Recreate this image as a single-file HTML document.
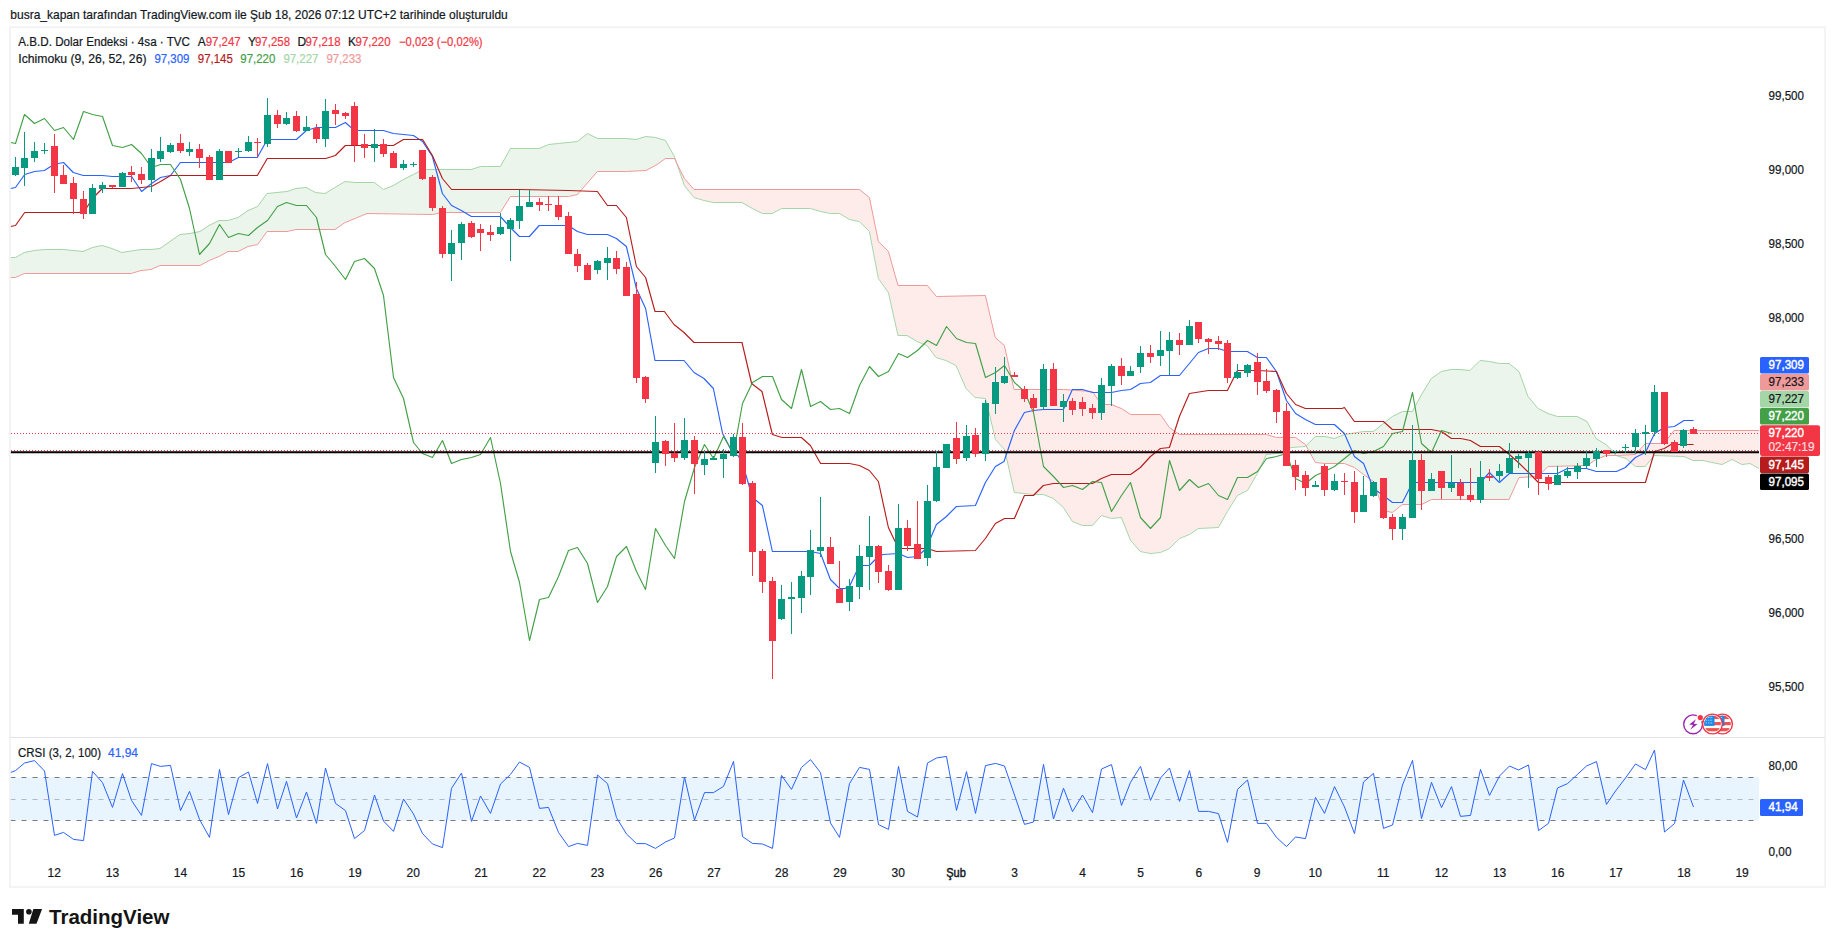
<!DOCTYPE html>
<html lang="tr"><head><meta charset="utf-8"><title>A.B.D. Dolar Endeksi</title>
<style>html,body{margin:0;padding:0;background:#fff;}body{width:1835px;height:947px;position:relative;overflow:hidden;font-family:"Liberation Sans", Arial, sans-serif;}</style>
</head><body>
<svg width="1835" height="947" viewBox="0 0 1835 947" style="display:block;position:absolute;left:0;top:0" font-family='"Liberation Sans", Arial, sans-serif' font-size="12" fill="#131722">
<rect width="1835" height="947" fill="#fff"/>
<g stroke="none">
<polygon points="10.5,257.4 15.4,257.4 24.4,252 34.4,250.6 44.4,249.6 63.6,249 73,250.6 83,251 92.4,247 102,245.4 112,248.6 121.6,252 131,250.7 141,249.4 151,249.4 160,248 170,241 180,234 190,233 200,231 209,225 219,220.4 228,220.4 238,217.6 248,210 257.6,206.6 267,193.6 277,192 287,191 296,188 306,187.4 315.6,192.6 325,193.4 335,187.6 345,181.4 355,182.4 367,182 374.4,182.4 383.4,189.6 393.4,185 403.4,179 413.4,174 422.6,169 432.4,169 442.4,169 471.4,169 480.4,166 500.4,166 510.4,148.6 539.2,148.6 548.6,144.4 558.4,143 568.4,142.3 577.4,141.6 587.4,133.6 597.4,138 626.4,138 636,139.4 646,136.6 655.6,137 657,137.4 665.4,140 674.4,156 677,163.6 677,163.6 674.4,158.4 665.4,158.4 657,164 655.6,164.8 646,170.4 636,170.9 626.4,171.4 597.4,171.4 587.4,183 577.4,194.6 568.4,196 558.4,196 548.6,196 539.2,196 510.4,196 500.4,212.6 480.4,212.6 471.4,212.6 442.4,212.6 432.4,214 422.6,213.9 413.4,213.8 403.4,213.7 393.4,213.6 383.4,213.6 374.4,213.5 367,213.4 355,218 345,222.4 335,229.4 325,229.4 315.6,229.4 306,229.4 296,229.4 287,231 277,231 267,231 257.6,244 248,246.6 238,251 228,251.6 219,256 209,260 200,265 190,265 180,265 170,265 160,265 151,269.4 141,270 131,273 121.6,273 112,273 102,273 92.4,273 83,273 73,273 63.6,273 44.4,273 34.4,273 24.4,273 15.4,277.4 10.5,277.4" fill="rgba(67,160,71,0.1)"/>
<polygon points="677,163.6 684.4,185.6 694,197.4 704,200 713.6,202.6 742,202.6 752.4,208.6 762.4,213 772,213 781.6,208 810.4,208 820.6,211.4 830.4,213 839.6,213 849.4,219.6 859.4,221.4 869.4,231.4 878.4,278 888.4,292 898,335 907,335.6 917,341 927,345 927.4,345.5 936,357 936.4,357.1 946,360 956,365 966,388 975,397.6 985.4,398.6 990,416 995.2,438.1 995.4,439 1004.4,448.8 1004.6,449 1014,490.6 1014.4,492.4 1033.4,494 1043.4,494.6 1053.4,498.6 1063.4,507 1072.4,521.6 1082.4,525.6 1092.4,525.6 1101.4,515.6 1111.4,518 1121.4,517.6 1130.6,540 1140.4,551 1150.4,553 1160.4,552 1169.4,548 1179.4,538 1189.4,534 1198.4,528 1218.4,527.4 1227.4,511 1237.4,495 1247.4,490 1257.4,473 1266.4,454 1276.4,453.4 1283,452 1291,447 1295.6,446.7 1305.4,446 1305.9,445.5 1305.9,445.5 1305.4,444.6 1295.6,437.6 1291,437.6 1283,437.6 1276.4,437.6 1266.4,434.4 1257.4,434.4 1247.4,434.4 1237.4,434.4 1227.4,434.4 1218.4,434.4 1198.4,434.4 1189.4,434.4 1179.4,434.4 1169.4,427.6 1160.4,414.4 1150.4,414.4 1140.4,414.4 1130.6,414.4 1121.4,408 1111.4,404 1101.4,404 1092.4,391 1082.4,390.3 1072.4,389.6 1063.4,389 1053.4,389 1043.4,389 1033.4,389 1014.4,389 1014,389 1004.6,346.5 1004.4,345.6 995.4,337.2 995.2,337 990,315 985.4,295.6 975,295.7 966,295.8 956,295.8 946,295.9 936.4,296 936,295.5 927.4,285.4 927,285.4 917,285.4 907,285.4 898,285.4 888.4,251 878.4,241 869.4,197 859.4,189.6 849.4,189.6 839.6,189.6 830.4,189.6 820.6,189.6 810.4,189.6 781.6,189.6 772,189.6 762.4,189.6 752.4,189.6 742,189.6 713.6,189.6 704,189.6 694,189.6 684.4,178.6 677,163.6" fill="rgba(244,67,54,0.1)"/>
<polygon points="1305.9,445.5 1315.4,436.6 1325,436.6 1334.4,438 1342,435 1344.4,434 1354.4,432.8 1363.6,431.6 1373.4,431 1383.4,423.6 1392.4,416.4 1402.4,411 1412.4,411 1421.6,394 1431.4,378 1441.4,371.4 1451.4,369 1460,369 1470,370.6 1480,360.6 1489.6,361 1499.6,363.6 1509,363.6 1519,371.4 1528,396 1538,408.6 1548,413 1557.4,416 1577,416.4 1587,421 1596,438 1606,444 1612,450 1616,455 1617.6,455.5 1617.6,455.5 1616,455.6 1612,455.6 1606,455.6 1596,459.6 1587,465.6 1577,465.7 1557.4,465.9 1548,466 1538,476.6 1528,476.8 1519,477 1509,499.6 1499.6,499.6 1489.6,499.6 1480,499.6 1470,499.6 1460,499.6 1451.4,499.6 1441.4,499.6 1431.4,499.6 1421.6,504.4 1412.4,504.4 1402.4,504.4 1392.4,512.4 1383.4,510 1373.4,481.6 1363.6,474.4 1354.4,467.6 1344.4,463 1342,463 1334.4,463 1325,463 1315.4,462 1305.9,445.5" fill="rgba(67,160,71,0.1)"/>
<polygon points="1617.6,455.5 1626,458 1635.4,466 1645.4,466.4 1654,455 1664,455.5 1674,455.9 1684,456.4 1693,460 1703,460 1712,462 1722,464.4 1732,459.6 1742,464.4 1750,463.6 1759,468 1759,430 1750,430 1742,430 1732,430 1722,430 1712,430 1703,430 1693,430 1684,430 1674,430 1664,443.4 1654,443.4 1645.4,443.4 1635.4,454 1626,454.8 1617.6,455.5" fill="rgba(244,67,54,0.1)"/>
</g>
<g fill="none" stroke-width="1" stroke-linejoin="round">
<polyline points="10.5,257.5 15.4,257.5 24.4,252.5 34.4,250.5 44.4,249.5 63.6,249.5 73,250.5 83,251.5 92.4,247.5 102,245.5 112,248.5 121.6,252.5 141,249.5 151,249.5 160,248.5 170,241.5 180,234.5 190,233.5 200,231.5 209,225.5 219,220.5 228,220.5 238,217.5 248,210.5 257.6,206.5 267,193.5 277,192.5 287,191.5 296,188.5 306,187.5 315.6,192.5 325,193.5 335,187.5 345,181.5 355,182.5 367,182.5 374.4,182.5 383.4,189.5 393.4,185.5 403.4,179.5 413.4,174.5 422.6,169.5 471.4,169.5 480.4,166.5 500.4,166.5 510.4,148.5 539.2,148.5 548.6,144.5 558.4,143.5 577.4,141.5 587.4,133.5 597.4,138.5 626.4,138.5 636,139.5 646,136.5 655.6,137.5 665.4,140.5 674.4,156.5 684.4,185.5 694,197.5 704,200.5 713.6,202.5 742,202.5 752.4,208.5 762.4,213.5 772,213.5 781.6,208.5 810.4,208.5 820.6,211.5 830.4,213.5 839.6,213.5 849.4,219.5 859.4,221.5 869.4,231.5 878.4,278.5 888.4,292.5 898,335.5 907,335.5 917,341.5 927,345.5 936,357.5 946,360.5 956,365.5 966,388.5 975,397.5 985.4,398.5 990,416.5 995.4,439.5 1004.6,449.5 1014.4,492.5 1033.4,494.5 1043.4,494.5 1053.4,498.5 1063.4,507.5 1072.4,521.5 1082.4,525.5 1092.4,525.5 1101.4,515.5 1111.4,518.5 1121.4,517.5 1130.6,540.5 1140.4,551.5 1150.4,553.5 1160.4,552.5 1169.4,548.5 1179.4,538.5 1189.4,534.5 1198.4,528.5 1218.4,527.5 1227.4,511.5 1237.4,495.5 1247.4,490.5 1257.4,473.5 1266.4,454.5 1276.4,453.5 1283,452.5 1291,447.5 1305.4,446.5 1315.4,436.5 1325,436.5 1334.4,438.5 1344.4,434.5 1363.6,431.5 1373.4,431.5 1383.4,423.5 1392.4,416.5 1402.4,411.5 1412.4,411.5 1421.6,394.5 1431.4,378.5 1441.4,371.5 1451.4,369.5 1460,369.5 1470,370.5 1480,360.5 1489.6,361.5 1499.6,363.5 1509,363.5 1519,371.5 1528,396.5 1538,408.5 1548,413.5 1557.4,416.5 1577,416.5 1587,421.5 1596,438.5 1606,444.5 1612,450.5 1616,455.5 1626,458.5 1635.4,466.5 1645.4,466.5 1654,455.5 1684,456.5 1693,460.5 1703,460.5 1712,462.5 1722,464.5 1732,459.5 1742,464.5 1750,463.5 1759,468.5" stroke="#A5D6A7"/>
<polyline points="10.5,277.5 15.4,277.5 24.4,273.5 131,273.5 141,270.5 151,269.5 160,265.5 200,265.5 209,260.5 219,256.5 228,251.5 238,251.5 248,246.5 257.6,244.5 267,231.5 287,231.5 296,229.5 335,229.5 345,222.5 355,218.5 367,213.5 432.4,214.5 442.4,212.5 500.4,212.5 510.4,196.5 568.4,196.5 577.4,194.5 597.4,171.5 626.4,171.5 646,170.5 657,164.5 665.4,158.5 674.4,158.5 684.4,178.5 694,189.5 859.4,189.5 869.4,197.5 878.4,241.5 888.4,251.5 898,285.5 927.4,285.5 936.4,296.5 985.4,295.5 995.2,337.5 1004.4,345.5 1014,389.5 1014.4,389.5 1063.4,389.5 1092.4,391.5 1101.4,404.5 1111.4,404.5 1121.4,408.5 1130.6,414.5 1160.4,414.5 1169.4,427.5 1179.4,434.5 1266.4,434.5 1276.4,437.5 1295.6,437.5 1305.4,444.5 1315.4,462.5 1325,463.5 1342,463.5 1344.4,463.5 1354.4,467.5 1363.6,474.5 1373.4,481.5 1383.4,510.5 1392.4,512.5 1402.4,504.5 1421.6,504.5 1431.4,499.5 1509,499.5 1519,477.5 1538,476.5 1548,466.5 1587,465.5 1596,459.5 1606,455.5 1616,455.5 1635.4,454.5 1645.4,443.5 1664,443.5 1674,430.5 1759,430.5" stroke="#EF9A9A"/>
</g>
<g fill="none" stroke-width="1.15" stroke-linejoin="round">
<polyline points="10.5,188.5 15.5,187.5 24.7,174.5 34.5,171.5 44.4,170.5 50.7,166.5 58.3,163.5 63.5,162.5 73.3,172.5 83.3,175.5 102.4,175.5 112.4,176.5 131.6,176.5 141.6,191.5 151.5,183.5 160.5,177.5 170.5,175.5 180.4,162.5 228.4,162.5 238.4,157.5 257.3,157.5 267.3,139.5 286.4,139.5 296.4,139.5 306.4,130.5 316.2,127.5 335.4,127.5 345.4,122.5 354.4,130.5 383.4,130.5 393.4,133.5 403.4,134.5 413.4,135.5 422.6,141.5 432.4,156.5 442.4,193.5 451.6,205.5 461.4,210.5 471.4,216.5 500.4,216.5 510.4,227.5 519.4,236.5 529.4,236.5 539.2,225.5 568.4,225.5 577.4,231.5 587.4,234.5 607.4,234.5 616.4,238.5 626.4,246.5 636.4,288.5 645.6,308.5 655,360.5 684,360.5 694,372.5 704,378.5 713.4,388.5 722.6,433.5 733.4,454.5 738,455.5 742.6,463.5 752.4,497.5 762.4,505.5 772.4,551.5 810.4,551.5 820.6,553.5 830.4,579.5 839.6,588.5 845,588.5 849.4,586.5 859.4,565.5 869.4,565.5 878.4,556.5 883,554.5 898.4,553.5 907.6,557.5 917.4,556.5 924,550.5 927.4,545.5 936.4,524.5 946.4,516.5 956.4,506.5 975.4,505.5 985.4,482.5 995.4,466.5 1004,461.5 1014.4,430.5 1024.4,412.5 1033.4,410.5 1043.4,409.5 1063.4,409.5 1072.4,389.5 1082.4,389.5 1092.4,392.5 1111.4,392.5 1121.4,390.5 1130.6,389.5 1140.4,383.5 1150.4,382.5 1160.4,375.5 1179.4,375.5 1189.4,363.5 1198.4,352.5 1208.4,348.5 1218.4,348.5 1227.4,351.5 1247.4,351.5 1257.4,357.5 1266.4,357.5 1276.4,371.5 1286.4,400.5 1295.6,413.5 1305.4,419.5 1315.4,424.5 1334.4,424.5 1344.4,433.5 1354.4,456.5 1363.6,463.5 1373.4,488.5 1383.4,495.5 1392.4,502.5 1402.4,502.5 1409,489.5 1412.4,482.5 1480.4,482.5 1489.4,472.5 1499.4,482.5 1509.4,473.5 1557.4,473.5 1567.4,468.5 1586.4,468.5 1596.4,471.5 1616.4,471.5 1625.4,467.5 1635.4,457.5 1645.4,452.5 1654.6,433.5 1664.4,427.5 1674.4,426.5 1684,420.5 1693.6,420.5" stroke="#2962FF"/>
<polyline points="10.5,226.5 15.5,225.5 24.7,212.5 73.3,212.5 79.4,212.5 86.2,208.5 92.4,198.5 102.4,188.5 131.6,188.5 151.5,186.5 160.5,181.5 170.5,175.5 257.3,175.5 267.3,158.5 296.3,158.5 325.6,158.5 335.4,155.5 345.4,145.5 393.4,145.5 403.4,139.5 422.6,139.5 432.4,155.5 442.4,178.5 451.6,189.5 519.4,189.5 568.4,190.5 597.4,191.5 607.4,205.5 616.4,205.5 626.4,217.5 636.4,266.5 645.6,277.5 655,311.5 664.4,311.5 674,324.5 684,332.5 694,342.5 742,342.5 751.6,383.5 762,391.5 772.4,434.5 782,437.5 801.4,437.5 810.4,445.5 820.6,463.5 849.4,463.5 859.4,465.5 869.4,470.5 878.4,481.5 888.4,527.5 898.4,548.5 927.4,548.5 936.4,551.5 975.4,550.5 985.4,538.5 995.4,523.5 1004.6,518.5 1014.4,518.5 1024.4,495.5 1033.4,495.5 1043.4,485.5 1053.4,483.5 1092.4,483.5 1101.4,478.5 1111.4,474.5 1130.6,474.5 1140.4,467.5 1150.4,456.5 1160.4,448.5 1169.4,447.5 1179.4,416.5 1189.4,393.5 1208.4,390.5 1227.4,390.5 1237.4,370.5 1257.4,370.5 1276.4,371.5 1286.4,393.5 1295.6,404.5 1305.4,408.5 1342,408.5 1344.4,407.5 1354.4,421.5 1383.4,421.5 1392.4,429.5 1431.4,429.5 1441.4,431.5 1451.4,438.5 1460.6,438.5 1470.4,440.5 1480.4,446.5 1499.4,446.5 1509.4,454.5 1519.4,463.5 1528.6,472.5 1538.4,482.5 1635.4,482.5 1645.4,482.5 1654.6,451.5 1664.4,448.5 1671,444.5 1693.6,444.5" stroke="#B71C1C"/>
<polyline points="10.5,142.5 15.5,143.5 24.5,114.5 34.5,123.5 44.5,118.5 54.5,130.5 63.5,127.5 73.5,139.5 83.5,111.5 92.5,114.5 102.5,116.5 112.5,145.5 122.5,147.5 131.5,144.5 141.5,153.5 151.5,167.5 160.5,164.5 170.5,164.5 180.5,179.5 189.5,208.5 199.5,254.5 209.5,243.5 219.5,224.5 228.5,237.5 238.5,233.5 248.5,235.5 257.5,227.5 267.5,220.5 277.5,206.5 286.5,202.5 296.5,205.5 306.5,205.5 316.5,217.5 325.5,254.5 335.5,266.5 345.5,279.5 354.5,261.5 364.5,258.5 374.5,268.5 383.5,295.5 393.5,377.5 403.5,398.5 413.5,442.5 422.5,453.5 432.5,457.5 442.5,440.5 451.5,463.5 461.5,459.5 471.5,457.5 480.5,454.5 490.5,437.5 500.5,483.5 510.5,551.5 519.5,582.5 529.5,640.5 539.5,599.5 548.5,597.5 558.5,576.5 568.5,550.5 577.5,547.5 587.5,563.5 597.5,602.5 607.5,586.5 616.5,556.5 626.5,546.5 636.5,571.5 645.5,589.5 655.5,528.5 665.5,545.5 674.5,558.5 684.5,501.5 694.5,467.5 704.5,444.5 713.5,458.5 723.5,436.5 733.5,453.5 742.5,403.5 752.5,382.5 762.5,376.5 772.5,376.5 781.5,399.5 791.5,408.5 801.5,369.5 810.5,406.5 820.5,401.5 830.5,409.5 839.5,408.5 849.5,413.5 859.5,385.5 869.5,366.5 878.5,376.5 888.5,371.5 898.5,353.5 907.5,357.5 917.5,350.5 927.5,340.5 936.5,345.5 946.5,326.5 956.5,338.5 966.5,342.5 975.5,343.5 985.5,377.5 995.5,372.5 1004.5,365.5 1014.5,382.5 1024.5,391.5 1033.5,412.5 1043.5,466.5 1053.5,476.5 1063.5,487.5 1072.5,485.5 1082.5,489.5 1092.5,481.5 1101.5,482.5 1111.5,511.5 1121.5,495.5 1130.5,482.5 1140.5,517.5 1150.5,528.5 1160.5,517.5 1169.5,460.5 1179.5,490.5 1189.5,479.5 1198.5,487.5 1208.5,483.5 1218.5,495.5 1227.5,499.5 1237.5,477.5 1247.5,477.5 1257.5,471.5 1266.5,458.5 1276.5,456.5 1286.5,453.5 1295.5,478.5 1305.5,483.5 1315.5,475.5 1324.5,471.5 1334.5,466.5 1344.5,458.5 1354.5,450.5 1363.5,453.5 1373.5,451.5 1383.5,446.5 1392.5,433.5 1402.5,431.5 1412.5,392.5 1421.5,443.5 1431.5,452.5 1441.5,430.5 1451.5,433.5" stroke="#43A047"/>
</g>
<line x1="11" x2="1759.0" y1="433.5" y2="433.5" stroke="#F23645" stroke-width="1" stroke-dasharray="1 2"/>
<line x1="11" x2="1759.0" y1="450.5" y2="450.5" stroke="#F23645" stroke-width="1" stroke-dasharray="1 2"/>
<line x1="10.5" x2="1759.0" y1="452.3" y2="452.3" stroke="#000" stroke-width="2"/>
<path d="M15.5 157V176M24.5 132V186M34.5 142V162M44.5 143V154M92.5 184V214M102.5 182V193M122.5 172V187M151.5 149V192M160.5 137V162M170.5 143V153M189.5 142V156M219.5 149V180M238.5 148V157M248.5 136V152M267.5 98V147M286.5 112V125M306.5 116V131M325.5 99V147M374.5 129V162M403.5 160V170M413.5 162V167M451.5 230V281M461.5 222V260M500.5 213V235M510.5 218V261M519.5 190V229M529.5 190V207M597.5 260V274M607.5 247V280M655.5 416V473M684.5 418V460M704.5 451V475M713.5 456V460M723.5 449V478M733.5 434V457M781.5 585V620M791.5 582V634M801.5 571V613M810.5 530V595M820.5 497V557M849.5 579V611M859.5 545V599M869.5 516V590M898.5 504V590M927.5 485V566M936.5 451V502M946.5 444V468M966.5 425V461M985.5 400V461M995.5 367V414M1004.5 357V384M1043.5 364V409M1063.5 394V422M1101.5 378V420M1111.5 364V406M1130.5 366V376M1140.5 346V373M1160.5 331V366M1169.5 332V375M1189.5 320V345M1237.5 364V379M1247.5 364V377M1315.5 481V487M1334.5 474V491M1363.5 476V512M1373.5 481V497M1402.5 514V540M1412.5 425V518M1431.5 473V491M1451.5 455V492M1480.5 461V503M1499.5 464V481M1509.5 443V473M1518.5 454V468M1528.5 451V488M1557.5 466V485M1567.5 467V478M1577.5 463V479M1586.5 451V468M1596.5 448V467M1615.5 451V454M1625.5 444V453M1635.5 429V454M1645.5 425V455M1654.5 385V436M1683.5 429V448" stroke="#089981" stroke-width="1" fill="none"/>
<path d="M54.5 134V193M63.5 165V184M73.5 177V214M83.5 191V219M112.5 185V188M131.5 166V182M141.5 167V184M180.5 134V153M199.5 144V168M209.5 155V180M228.5 151V163M257.5 138V157M277.5 110V128M296.5 111V132M316.5 124V143M335.5 104V125M345.5 112V119M354.5 102V162M364.5 134V158M383.5 139V157M393.5 151V168M422.5 150V180M432.5 175V211M442.5 206V258M471.5 221V238M480.5 224V251M490.5 225V241M539.5 198V211M548.5 196V211M558.5 196V220M568.5 212V254M577.5 249V272M587.5 263V280M616.5 251V274M626.5 262V296M636.5 282V383M645.5 376V403M665.5 440V466M674.5 423V462M694.5 436V494M742.5 423V485M752.5 481V576M762.5 549V593M772.5 577V679M830.5 537V564M839.5 561V603M878.5 545V583M888.5 565V591M907.5 520V551M917.5 501V559M956.5 422V464M975.5 428V457M1014.5 372V377M1024.5 386V402M1033.5 394V412M1053.5 363V406M1072.5 398V415M1082.5 397V416M1092.5 404V419M1121.5 358V385M1150.5 345V363M1179.5 333V355M1198.5 322V343M1208.5 338V354M1218.5 336V350M1227.5 340V383M1257.5 353V395M1266.5 369V393M1276.5 389V423M1286.5 403V466M1295.5 460V490M1305.5 471V496M1324.5 464V496M1344.5 473V495M1354.5 471V523M1383.5 478V519M1392.5 514V540M1421.5 454V510M1441.5 471V499M1460.5 479V500M1470.5 468V502M1489.5 469V481M1538.5 451V495M1548.5 475V490M1606.5 450V457M1664.5 392V445M1674.5 440V452M1693.5 427V434" stroke="#F23645" stroke-width="1" fill="none"/>
<path d="M12 167h7V175h-7zM21 158h7V168h-7zM31 151h7V158h-7zM41 150h7V151h-7zM89 188h7V214h-7zM99 185h7V189h-7zM119 173h7V187h-7zM148 158h7V180h-7zM157 151h7V159h-7zM167 145h7V152h-7zM186 149h7V152h-7zM216 151h7V180h-7zM235 151h7V152h-7zM245 142h7V151h-7zM264 115h7V144h-7zM283 118h7V124h-7zM303 127h7V131h-7zM322 111h7V139h-7zM371 144h7V148h-7zM400 164h7V168h-7zM410 164h7V165h-7zM448 243h7V254h-7zM458 224h7V243h-7zM497 227h7V234h-7zM507 220h7V229h-7zM516 206h7V221h-7zM526 202h7V207h-7zM594 261h7V270h-7zM604 258h7V263h-7zM652 442h7V463h-7zM681 440h7V458h-7zM701 459h7V465h-7zM710 458h7V460h-7zM720 454h7V459h-7zM730 437h7V456h-7zM778 599h7V619h-7zM788 597h7V599h-7zM798 576h7V598h-7zM807 550h7V577h-7zM817 547h7V551h-7zM846 586h7V602h-7zM856 556h7V587h-7zM866 546h7V557h-7zM895 528h7V590h-7zM924 501h7V558h-7zM933 467h7V501h-7zM943 444h7V468h-7zM963 436h7V458h-7zM982 403h7V454h-7zM992 382h7V404h-7zM1001 376h7V383h-7zM1040 369h7V407h-7zM1060 401h7V407h-7zM1098 385h7V413h-7zM1108 366h7V386h-7zM1127 371h7V376h-7zM1137 353h7V367h-7zM1157 350h7V356h-7zM1166 340h7V351h-7zM1186 326h7V345h-7zM1234 372h7V378h-7zM1244 365h7V373h-7zM1312 485h7V487h-7zM1331 481h7V490h-7zM1360 495h7V512h-7zM1370 482h7V496h-7zM1399 517h7V529h-7zM1409 460h7V518h-7zM1428 479h7V491h-7zM1448 483h7V488h-7zM1477 477h7V500h-7zM1496 471h7V476h-7zM1506 458h7V473h-7zM1515 456h7V459h-7zM1525 453h7V458h-7zM1554 475h7V485h-7zM1564 471h7V476h-7zM1574 466h7V472h-7zM1583 458h7V466h-7zM1593 451h7V459h-7zM1612 451h7V452h-7zM1622 447h7V448h-7zM1632 433h7V447h-7zM1642 432h7V434h-7zM1651 392h7V432h-7zM1680 430h7V446h-7z" fill="#089981"/>
<path d="M51 146h7V176h-7zM60 175h7V184h-7zM70 183h7V199h-7zM80 199h7V214h-7zM109 185h7V187h-7zM128 172h7V175h-7zM138 174h7V180h-7zM177 143h7V151h-7zM196 149h7V158h-7zM206 157h7V180h-7zM225 151h7V163h-7zM254 142h7V143h-7zM274 115h7V124h-7zM293 116h7V131h-7zM313 128h7V139h-7zM332 110h7V114h-7zM342 113h7V116h-7zM351 106h7V145h-7zM361 144h7V148h-7zM380 144h7V154h-7zM390 153h7V168h-7zM419 150h7V179h-7zM429 177h7V208h-7zM439 208h7V254h-7zM468 223h7V237h-7zM477 229h7V233h-7zM487 232h7V235h-7zM536 202h7V205h-7zM545 204h7V205h-7zM555 205h7V217h-7zM565 216h7V254h-7zM574 254h7V266h-7zM584 265h7V280h-7zM613 258h7V269h-7zM623 267h7V296h-7zM633 294h7V378h-7zM642 377h7V399h-7zM662 441h7V454h-7zM671 453h7V458h-7zM691 440h7V464h-7zM739 437h7V484h-7zM749 483h7V552h-7zM759 551h7V582h-7zM769 581h7V641h-7zM827 547h7V564h-7zM836 589h7V603h-7zM875 546h7V572h-7zM885 571h7V590h-7zM904 528h7V546h-7zM914 544h7V559h-7zM953 438h7V459h-7zM972 435h7V454h-7zM1011 375h7V377h-7zM1021 389h7V399h-7zM1030 398h7V408h-7zM1050 369h7V406h-7zM1069 401h7V410h-7zM1079 402h7V409h-7zM1089 408h7V413h-7zM1118 366h7V376h-7zM1147 353h7V357h-7zM1176 340h7V345h-7zM1195 322h7V339h-7zM1205 339h7V342h-7zM1215 341h7V344h-7zM1224 343h7V378h-7zM1254 362h7V382h-7zM1263 381h7V391h-7zM1273 390h7V412h-7zM1283 411h7V466h-7zM1292 465h7V477h-7zM1302 475h7V488h-7zM1321 466h7V490h-7zM1341 481h7V482h-7zM1351 482h7V512h-7zM1380 478h7V518h-7zM1389 517h7V529h-7zM1418 460h7V491h-7zM1438 471h7V488h-7zM1457 483h7V496h-7zM1467 495h7V500h-7zM1486 476h7V478h-7zM1535 452h7V479h-7zM1545 477h7V484h-7zM1603 450h7V454h-7zM1661 392h7V444h-7zM1671 442h7V452h-7zM1690 429h7V434h-7z" fill="#F23645"/>
<rect x="10.5" y="777.4" width="1748.5" height="43" fill="rgba(33,150,243,0.1)"/>
<line x1="10.5" x2="1759.0" y1="777.5" y2="777.5" stroke="#787B86" stroke-width="1" stroke-dasharray="5 6"/>
<line x1="10.5" x2="1759.0" y1="799.5" y2="799.5" stroke="#787B86" stroke-opacity="0.5" stroke-width="1" stroke-dasharray="5 6"/>
<line x1="10.5" x2="1759.0" y1="820.5" y2="820.5" stroke="#787B86" stroke-width="1" stroke-dasharray="5 6"/>
<polyline points="10.4,772.6 15.5,770.6 24.5,763 34.5,760.6 44.5,771 54.5,835.4 63.5,832.4 73.5,839.4 83.5,840.6 92.5,771.4 102.5,782.6 112.5,807.4 122.5,773.6 131.5,800.4 141.5,815.4 151.5,763.6 160.5,766.4 170.5,765.4 180.5,810.6 189.5,791.4 199.5,819.4 209.5,837.4 219.5,769.4 228.5,814.6 238.5,777.6 248.5,772 257.5,803.4 267.5,763.6 277.5,809 286.5,781.4 296.5,818 306.5,792 316.5,823.4 325.5,768 335.5,803.4 345.5,810.6 354.5,838.6 364.5,830.6 374.5,795 383.5,821 393.5,831.4 403.5,799 413.5,814 422.5,833.6 432.5,844 442.5,847.6 451.5,788.4 461.5,773 471.5,821.4 480.5,796 490.5,813.4 500.5,784 510.5,774.4 519.5,762 529.5,767.4 539.5,808.4 548.5,807.4 558.5,832.4 568.5,846.6 577.5,843.4 587.5,845.4 597.5,775 607.5,783.6 616.5,817.6 626.5,834 636.5,843.6 645.5,843.6 655.5,848.4 665.5,842 674.5,838 684.5,777 694.5,820 704.5,792.6 713.5,792.6 723.5,786.4 733.5,761.4 742.5,836.6 752.5,843.4 762.5,844 772.5,848.4 781.5,775.4 791.5,789.4 801.5,767.4 810.5,759.6 820.5,772.6 830.5,823 839.5,837.4 849.5,783.6 859.5,767.4 869.5,769.4 878.5,824.6 888.5,829.4 898.5,766.4 907.5,811.4 917.5,817 927.5,763 936.5,758 946.5,756.4 956.5,810.4 966.5,771.6 975.5,813.4 985.5,765.6 995.5,763.4 1004.5,766 1014.5,795 1024.5,824.4 1033.5,822 1043.5,764.4 1053.5,819 1063.5,788.2 1072.5,811.6 1082.5,795 1092.5,812.6 1101.5,769 1111.5,764.6 1121.5,805.4 1130.5,782.4 1140.5,766.4 1150.5,800.4 1160.5,778 1169.5,768 1179.5,801.4 1189.5,770.6 1198.5,811.4 1208.5,811.4 1218.5,813.6 1227.5,842.4 1237.5,789.4 1247.5,780 1257.5,823.4 1266.5,823.4 1276.5,837.4 1286.5,846.6 1295.5,837 1305.5,838.6 1315.5,797.4 1324.5,813.4 1334.5,786.6 1344.5,807 1354.5,833.6 1363.5,782 1373.5,773.4 1383.5,828.4 1392.5,825 1402.5,785 1412.5,760.4 1421.5,818.6 1431.5,782.4 1441.5,807.6 1451.5,786.6 1460.5,816.4 1470.5,815.4 1480.5,769.4 1489.5,795.4 1499.5,776 1509.5,766 1518.5,770 1528.5,765 1538.5,830.6 1548.5,823.4 1557.5,788 1567.5,783.6 1577.5,774.4 1586.5,766 1596.5,761.6 1606.5,804.4 1615.5,791 1625.5,778 1635.5,764 1645.5,769.6 1654.5,750 1664.5,832 1674.5,823.6 1683.5,780 1693.5,807" fill="none" stroke="#2962FF" stroke-width="1" stroke-linejoin="round"/>
<g fill="none" stroke="#E0E3EB" stroke-width="1">
<rect x="10" y="27.1" width="1815" height="859.9" stroke="#F0F0F0" stroke-width="1.5"/>
<line x1="10" x2="1825" y1="737.5" y2="737.5"/>
</g>
<text x="1768.5" y="99.7" stroke="#131722" stroke-width="0.2" textLength="35.5" lengthAdjust="spacingAndGlyphs">99,500</text>
<text x="1768.5" y="173.6" stroke="#131722" stroke-width="0.2" textLength="35.5" lengthAdjust="spacingAndGlyphs">99,000</text>
<text x="1768.5" y="247.5" stroke="#131722" stroke-width="0.2" textLength="35.5" lengthAdjust="spacingAndGlyphs">98,500</text>
<text x="1768.5" y="321.7" stroke="#131722" stroke-width="0.2" textLength="35.5" lengthAdjust="spacingAndGlyphs">98,000</text>
<text x="1768.5" y="542.9" stroke="#131722" stroke-width="0.2" textLength="35.5" lengthAdjust="spacingAndGlyphs">96,500</text>
<text x="1768.5" y="616.8" stroke="#131722" stroke-width="0.2" textLength="35.5" lengthAdjust="spacingAndGlyphs">96,000</text>
<text x="1768.5" y="690.7" stroke="#131722" stroke-width="0.2" textLength="35.5" lengthAdjust="spacingAndGlyphs">95,500</text>
<text x="1768.5" y="770.3" stroke="#131722" stroke-width="0.2" textLength="29" lengthAdjust="spacingAndGlyphs">80,00</text>
<text x="1768.5" y="856.3" stroke="#131722" stroke-width="0.2" textLength="23" lengthAdjust="spacingAndGlyphs">0,00</text>
<rect x="1760" y="357" width="49" height="16.5" rx="1.5" fill="#2962FF"/>
<text x="1768.5" y="369.1" fill="#fff" stroke="#fff" stroke-width="0.4" textLength="35.5" lengthAdjust="spacingAndGlyphs">97,309</text>
<rect x="1760" y="374" width="49" height="16.5" rx="1.5" fill="#EF9A9A"/>
<text x="1768.5" y="386.1" fill="#131722" stroke="#131722" stroke-width="0.2" textLength="35.5" lengthAdjust="spacingAndGlyphs">97,233</text>
<rect x="1760" y="391" width="49" height="16.5" rx="1.5" fill="#A5D6A7"/>
<text x="1768.5" y="403.1" fill="#131722" stroke="#131722" stroke-width="0.2" textLength="35.5" lengthAdjust="spacingAndGlyphs">97,227</text>
<rect x="1760" y="408" width="49" height="16.5" rx="1.5" fill="#43A047"/>
<text x="1768.5" y="420.1" fill="#fff" stroke="#fff" stroke-width="0.4" textLength="35.5" lengthAdjust="spacingAndGlyphs">97,220</text>
<rect x="1760" y="456.5" width="49" height="16.5" rx="1.5" fill="#B71C1C"/>
<text x="1768.5" y="468.6" fill="#fff" stroke="#fff" stroke-width="0.4" textLength="35.5" lengthAdjust="spacingAndGlyphs">97,145</text>
<rect x="1760" y="473.5" width="49" height="16.5" rx="1.5" fill="#000"/>
<text x="1768.5" y="485.6" fill="#fff" stroke="#fff" stroke-width="0.4" textLength="35.5" lengthAdjust="spacingAndGlyphs">97,095</text>
<rect x="1760" y="425.3" width="60" height="30.6" rx="2" fill="#F23645"/>
<text x="1768.5" y="437.2" fill="#fff" stroke="#fff" stroke-width="0.4" textLength="35.5" lengthAdjust="spacingAndGlyphs">97,220</text>
<text x="1768.5" y="450.8" fill="#fff" stroke="#fff" stroke-width="0.2" textLength="46" lengthAdjust="spacingAndGlyphs" fill-opacity="0.75">02:47:19</text>
<rect x="1760" y="799" width="43" height="17" rx="1.5" fill="#2962FF"/>
<text x="1768.5" y="811.3" fill="#fff" stroke="#fff" stroke-width="0.4" textLength="29.2" lengthAdjust="spacingAndGlyphs">41,94</text>
<text x="54.3" y="877.3" text-anchor="middle" stroke="#131722" stroke-width="0.2">12</text>
<text x="112.5" y="877.3" text-anchor="middle" stroke="#131722" stroke-width="0.2">13</text>
<text x="180.4" y="877.3" text-anchor="middle" stroke="#131722" stroke-width="0.2">14</text>
<text x="238.6" y="877.3" text-anchor="middle" stroke="#131722" stroke-width="0.2">15</text>
<text x="296.8" y="877.3" text-anchor="middle" stroke="#131722" stroke-width="0.2">16</text>
<text x="355" y="877.3" text-anchor="middle" stroke="#131722" stroke-width="0.2">19</text>
<text x="413.2" y="877.3" text-anchor="middle" stroke="#131722" stroke-width="0.2">20</text>
<text x="481.1" y="877.3" text-anchor="middle" stroke="#131722" stroke-width="0.2">21</text>
<text x="539.3" y="877.3" text-anchor="middle" stroke="#131722" stroke-width="0.2">22</text>
<text x="597.5" y="877.3" text-anchor="middle" stroke="#131722" stroke-width="0.2">23</text>
<text x="655.7" y="877.3" text-anchor="middle" stroke="#131722" stroke-width="0.2">26</text>
<text x="713.9" y="877.3" text-anchor="middle" stroke="#131722" stroke-width="0.2">27</text>
<text x="781.8" y="877.3" text-anchor="middle" stroke="#131722" stroke-width="0.2">28</text>
<text x="840" y="877.3" text-anchor="middle" stroke="#131722" stroke-width="0.2">29</text>
<text x="898.2" y="877.3" text-anchor="middle" stroke="#131722" stroke-width="0.2">30</text>
<text x="946.2" y="877.3" stroke="#131722" stroke-width="0.45" textLength="19.6" lengthAdjust="spacingAndGlyphs">Şub</text>
<text x="1014.6" y="877.3" text-anchor="middle" stroke="#131722" stroke-width="0.2">3</text>
<text x="1082.5" y="877.3" text-anchor="middle" stroke="#131722" stroke-width="0.2">4</text>
<text x="1140.7" y="877.3" text-anchor="middle" stroke="#131722" stroke-width="0.2">5</text>
<text x="1198.9" y="877.3" text-anchor="middle" stroke="#131722" stroke-width="0.2">6</text>
<text x="1257.1" y="877.3" text-anchor="middle" stroke="#131722" stroke-width="0.2">9</text>
<text x="1315.3" y="877.3" text-anchor="middle" stroke="#131722" stroke-width="0.2">10</text>
<text x="1383.2" y="877.3" text-anchor="middle" stroke="#131722" stroke-width="0.2">11</text>
<text x="1441.4" y="877.3" text-anchor="middle" stroke="#131722" stroke-width="0.2">12</text>
<text x="1499.6" y="877.3" text-anchor="middle" stroke="#131722" stroke-width="0.2">13</text>
<text x="1557.8" y="877.3" text-anchor="middle" stroke="#131722" stroke-width="0.2">16</text>
<text x="1616" y="877.3" text-anchor="middle" stroke="#131722" stroke-width="0.2">17</text>
<text x="1683.9" y="877.3" text-anchor="middle" stroke="#131722" stroke-width="0.2">18</text>
<text x="1742.1" y="877.3" text-anchor="middle" stroke="#131722" stroke-width="0.2">19</text>
<text x="10.3" y="18.9" stroke="#131722" stroke-width="0.2" textLength="497.5" lengthAdjust="spacingAndGlyphs" font-size="13">busra_kapan tarafından TradingView.com ile Şub 18, 2026 07:12 UTC+2 tarihinde oluşturuldu</text>
<text x="18.3" y="45.7" stroke="#131722" stroke-width="0.2" textLength="171.7" lengthAdjust="spacingAndGlyphs">A.B.D. Dolar Endeksi · 4sa · TVC</text>
<text x="197.8" y="45.7" stroke="#131722" stroke-width="0.2">A</text>
<text x="205.7" y="45.7" fill="#F23645" stroke="#F23645" stroke-width="0.2" textLength="35" lengthAdjust="spacingAndGlyphs">97,247</text>
<text x="248" y="45.7" stroke="#131722" stroke-width="0.2">Y</text>
<text x="255" y="45.7" fill="#F23645" stroke="#F23645" stroke-width="0.2" textLength="35" lengthAdjust="spacingAndGlyphs">97,258</text>
<text x="297.5" y="45.7" stroke="#131722" stroke-width="0.2">D</text>
<text x="305.5" y="45.7" fill="#F23645" stroke="#F23645" stroke-width="0.2" textLength="35" lengthAdjust="spacingAndGlyphs">97,218</text>
<text x="348" y="45.7" stroke="#131722" stroke-width="0.2">K</text>
<text x="355.6" y="45.7" fill="#F23645" stroke="#F23645" stroke-width="0.2" textLength="35" lengthAdjust="spacingAndGlyphs">97,220</text>
<text x="399" y="45.7" fill="#F23645" stroke="#F23645" stroke-width="0.2" textLength="83.6" lengthAdjust="spacingAndGlyphs">−0,023 (−0,02%)</text>
<text x="18.3" y="62.6" stroke="#131722" stroke-width="0.2" textLength="128.2" lengthAdjust="spacingAndGlyphs">Ichimoku (9, 26, 52, 26)</text>
<text x="154.4" y="62.6" fill="#2962FF" stroke="#2962FF" stroke-width="0.2" textLength="35" lengthAdjust="spacingAndGlyphs">97,309</text>
<text x="197.8" y="62.6" fill="#B71C1C" stroke="#B71C1C" stroke-width="0.2" textLength="35" lengthAdjust="spacingAndGlyphs">97,145</text>
<text x="240.3" y="62.6" fill="#43A047" stroke="#43A047" stroke-width="0.2" textLength="35" lengthAdjust="spacingAndGlyphs">97,220</text>
<text x="283.4" y="62.6" fill="#A5D6A7" stroke="#A5D6A7" stroke-width="0.2" textLength="35" lengthAdjust="spacingAndGlyphs">97,227</text>
<text x="326.4" y="62.6" fill="#EF9A9A" stroke="#EF9A9A" stroke-width="0.2" textLength="35" lengthAdjust="spacingAndGlyphs">97,233</text>
<text x="18" y="757" stroke="#131722" stroke-width="0.2" textLength="83" lengthAdjust="spacingAndGlyphs">CRSI (3, 2, 100)</text>
<text x="108" y="757" fill="#2962FF" stroke="#2962FF" stroke-width="0.2" textLength="30" lengthAdjust="spacingAndGlyphs">41,94</text>
<g>
<circle cx="1693.1" cy="724.3" r="9.4" fill="#fff" stroke="#9C27B0" stroke-width="1.4"/>
<path d="M1695.9 719.2L1689.2 724.5L1693 724.9L1690.3 729.8L1697.6 724.1L1693.8 723.8Z" fill="#9C27B0"/>
<circle cx="1700.3" cy="717.6" r="3.9" fill="#fff"/><circle cx="1700.3" cy="717.6" r="2.6" fill="#F23645"/>
<clipPath id="fc2"><circle cx="1722.5" cy="724" r="8.4"/></clipPath><circle cx="1722.5" cy="724" r="9.9" fill="#fff" stroke="#F23645" stroke-width="1.4"/><g clip-path="url(#fc2)"><rect x="1713.5" y="715" width="18" height="18" fill="#fff"/><rect x="1713.5" y="715.9" width="18" height="3.2" fill="#EF5350"/><rect x="1713.5" y="722" width="18" height="3.2" fill="#EF5350"/><rect x="1713.5" y="728.1" width="18" height="3.2" fill="#EF5350"/><rect x="1713.5" y="715" width="11" height="10.9" fill="#1E88E5"/><path d="M1715.5 717.5h7.4" stroke="#BBDEFB" stroke-width="0.8" stroke-dasharray="1.6 0.8"/><path d="M1715.5 720.2h7.4" stroke="#BBDEFB" stroke-width="0.8" stroke-dasharray="1.6 0.8"/><path d="M1715.5 722.9h7.4" stroke="#BBDEFB" stroke-width="0.8" stroke-dasharray="1.6 0.8"/></g>
<clipPath id="fc1"><circle cx="1712.5" cy="724" r="8.4"/></clipPath><circle cx="1712.5" cy="724" r="9.9" fill="#fff" stroke="#F23645" stroke-width="1.4"/><g clip-path="url(#fc1)"><rect x="1703.5" y="715" width="18" height="18" fill="#fff"/><rect x="1703.5" y="715.9" width="18" height="3.2" fill="#EF5350"/><rect x="1703.5" y="722" width="18" height="3.2" fill="#EF5350"/><rect x="1703.5" y="728.1" width="18" height="3.2" fill="#EF5350"/><rect x="1703.5" y="715" width="11" height="10.9" fill="#1E88E5"/><path d="M1705.5 717.5h7.4" stroke="#BBDEFB" stroke-width="0.8" stroke-dasharray="1.6 0.8"/><path d="M1705.5 720.2h7.4" stroke="#BBDEFB" stroke-width="0.8" stroke-dasharray="1.6 0.8"/><path d="M1705.5 722.9h7.4" stroke="#BBDEFB" stroke-width="0.8" stroke-dasharray="1.6 0.8"/></g>
</g>
<g fill="#141414">
<path d="M12 909h11.8v14.8h-5.8v-9h-6z"/><circle cx="28.9" cy="911.8" r="2.8"/><path d="M33.4 909h8.7l-5.6 14.8h-7.7z"/>
<text x="49" y="923.8" fill="#141414" textLength="120.5" lengthAdjust="spacingAndGlyphs" font-weight="bold" font-size="21">TradingView</text>
</g>
</svg>
</body></html>
